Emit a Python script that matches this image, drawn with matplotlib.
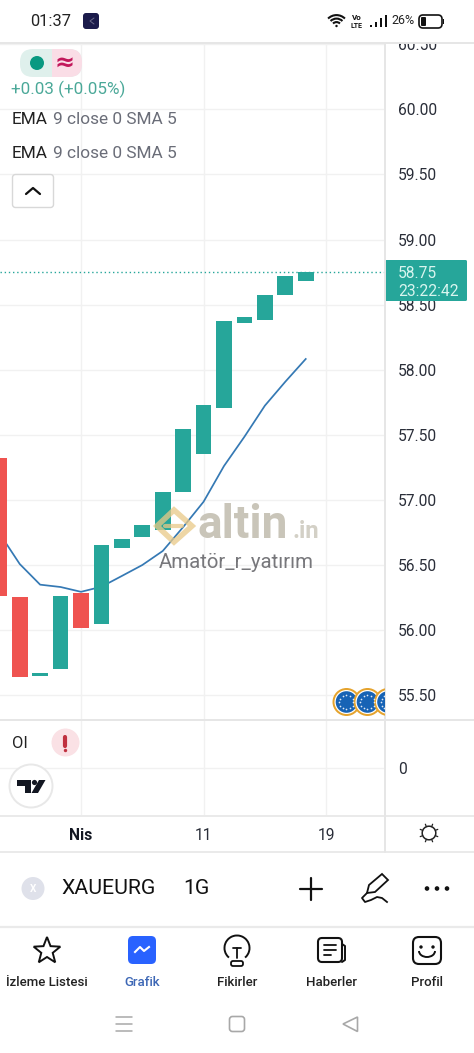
import numpy as np
import matplotlib
matplotlib.use("Agg")
import matplotlib.pyplot as plt
from matplotlib.patches import Circle, FancyBboxPatch, Polygon, Rectangle, Wedge, Arc

plt.rcParams["font.family"] = ["Roboto", "DejaVu Sans"]

W, H = 474, 1053
TEAL = "#26a69a"
RED = "#ef5350"
GRID = "#f1f1f1"
EDGE = "#e6e6e6"
INK = "#131722"

# candle bodies
opens = [57.32, 56.25, 55.645, 55.694, 56.283, 56.045, 56.625, 56.709,
         56.768, 57.058, 57.348, 57.706, 58.358, 58.378, 58.575, 58.678]
closes = [56.258, 55.635, 55.668, 56.26, 56.014, 56.65, 56.698, 56.806,
          57.06, 57.54, 57.729, 58.373, 58.402, 58.571, 58.722, 58.752]
ema = [56.742, 56.504, 56.345, 56.327, 56.29, 56.329, 56.412, 56.496,
       56.604, 56.788, 56.983, 57.258, 57.483, 57.722, 57.906, 58.081]
last_price = 58.75
price_ticks = [55.5, 56.0, 56.5, 57.0, 57.5, 58.0, 58.5, 59.0, 59.5, 60.0, 60.5]
time_ticks = [4, 10, 16]
time_labels = ["Nis", "11", "19"]
nav_labels = ["İzleme Listesi", "Grafik", "Fikirler", "Haberler", "Profil"]
nav_x = [47, 142, 237, 332, 427]


def fs(px):
    return px * 0.72


def pane(left, top, right, bottom):
    return fig.add_axes([left / W, 1 - bottom / H, (right - left) / W, (bottom - top) / H])


fig = plt.figure(figsize=(W / 100, H / 100), dpi=100, facecolor="white")

# price pane
ax = pane(0, 43, 385, 720)
idx = np.arange(len(opens))
colors = [TEAL if c >= o else RED for o, c in zip(opens, closes)]
ax.plot(idx, ema, color="#3579b4", lw=1.25, zorder=3)
ax.bar(idx, np.array(closes) - np.array(opens), bottom=opens, width=0.77, color=colors, zorder=4)
ax.axhline(last_price, color=TEAL, lw=1, ls=(0, (1, 2)), zorder=2)
ax.set_xlim(0.035, 18.88)
ax.set_ylim(55.304, 60.5115)
ax.set_xticks(time_ticks)
ax.set_yticks(price_ticks, [f"{p:.2f}" for p in price_ticks])
ax.yaxis.tick_right()
ax.tick_params(axis="y", length=0, pad=9.2, labelsize=fs(15.6), labelcolor="#2a2e39")
ax.tick_params(axis="x", length=0, labelbottom=False)
ax.grid(color=GRID, lw=1, zorder=0)
ax.set_axisbelow(True)
for s in ax.spines.values():
    s.set_visible(False)

# indicator pane with the date labels underneath
oi = pane(0, 720, 385, 815)
oi.set_xlim(ax.get_xlim())
oi.set_ylim(-1, 1.02)
oi.set_xticks(time_ticks, time_labels)
oi.set_yticks([0], ["0"])
oi.yaxis.tick_right()
oi.tick_params(axis="y", length=0, pad=9.2, labelsize=fs(15.6), labelcolor="#2a2e39")
oi.tick_params(axis="x", length=0, pad=9.5, labelsize=fs(15.6), labelcolor="#2a2e39")
oi.get_xticklabels()[0].set_fontweight("bold")
oi.get_xticklabels()[0].set_color(INK)
oi.grid(color=GRID, lw=1)
oi.set_axisbelow(True)
for s in oi.spines.values():
    s.set_visible(False)

# everything else sits on a pixel overlay
ui = fig.add_axes([0, 0, 1, 1], facecolor="none")
ui.set_xlim(0, W)
ui.set_ylim(H, 0)
ui.axis("off")


def line(xs, ys, color=INK, lw=1.4, **kw):
    ui.plot(xs, ys, color=color, lw=lw, solid_capstyle="round", **kw)


def text(x, y, s, size, color=INK, ha="left", **kw):
    # roboto sits a bit high with va=center
    ui.text(x, y + 1, s, fontsize=fs(size), color=color, ha=ha, va="center", **kw)


def box(x, y, w, h, r, fc="none", ec="none", lw=1.0, **kw):
    p = FancyBboxPatch((x + r, y + r), w - 2 * r, h - 2 * r, boxstyle=f"round,pad={r}",
                       fc=fc, ec=ec, lw=lw, **kw)
    ui.add_patch(p)
    return p


# status bar
ui.add_patch(Rectangle((0, 0), W, 43, fc="white", ec="none", zorder=5))
kw = {"zorder": 6}
ui.text(30, 21.5, "01:37", fontsize=fs(16.5), color="#222", va="center", **kw)
box(83, 13, 16, 16, 3, fc="#1b1b4b", **kw)
line([94, 90, 94], [18, 21, 24], color="#6a6a8a", lw=0.7, zorder=6)
for r in (17, 12, 7):
    ui.add_patch(Arc((336.5, 27), r * 1.4, r * 1.4, theta1=225, theta2=315, ec="#111", lw=1.5, zorder=6))
ui.add_patch(Circle((336.5, 26), 1.2, fc="#111", zorder=6))
ui.text(357, 18, "Vo", fontsize=fs(8), weight="bold", ha="center", va="center", color="#111", **kw)
ui.text(357, 26, "LTE", fontsize=fs(7), weight="bold", ha="center", va="center", color="#111", **kw)
for x0, top in zip((371, 376, 381, 386), (25, 22, 18, 15)):
    ui.add_patch(Rectangle((x0 - 1, top), 2.4, 27 - top, fc="#111", zorder=6))
ui.text(391, 21, "26%", fontsize=fs(12.5), color="#222", va="center", **kw)
box(419, 15, 23, 13, 4, ec="#111", lw=1.2, **kw)
box(421, 17, 5, 9, 1, fc="#111", **kw)
ui.add_patch(Rectangle((443, 19), 1.5, 5, fc="#111", zorder=6))

# frame lines
line([0, W], [43, 43], color=EDGE, lw=1.4, zorder=7)
line([385, 385], [43, 852], color=EDGE, lw=1.4)
line([0, W], [720, 720], color=EDGE, lw=1.4)
line([0, W], [815.5, 815.5], color=EDGE, lw=1.2)
line([0, W], [852, 852], color=EDGE, lw=1.2)

# legend block
box(20, 49, 62, 28, 13, fc="#dff0ec")
pink = box(20, 49, 62, 28, 13, fc="#fadde6")
pink.set_clip_path(Rectangle((52, 40), 40, 50, transform=ui.transData))
ui.add_patch(Circle((37, 63), 7, fc="#089981", ec="none"))
text(65, 62, "≈", 24, color="#c2185b", ha="center", weight="bold", family="DejaVu Sans")
text(11, 88, "+0.03 (+0.05%)", 17, color="#4aa898")
for y in (119, 153):
    text(12, y, "EMA", 17.2, color="#222")
    text(53, y, "9 close 0 SMA 5", 17.2, color="#6a6d78")
box(12.5, 174.5, 41, 33, 3, fc="white", ec="#d8d8d8", lw=1)
line([26, 33, 40], [194, 188, 194], color="#111", lw=1.6)

# last price badge
box(385, 260, 82, 41, 1.5, fc=TEAL)
text(398, 272, "58.75", 15.6, color="#d9f5ef")
text(398, 291, "23:22:42", 15.6, color="#d9f5ef")

# watermark
ui.add_patch(Polygon([[174, 510], [192, 526], [174, 542], [157, 526]], closed=True, fc="none",
                     ec="#e9c987", lw=4, alpha=0.75, joinstyle="miter"))
line([165, 182], [526, 526], color="#e9c987", lw=3, alpha=0.75)
text(198, 524, "altin", 46, color="#c9c5b9", weight="bold")
text(293, 531, ".in", 24, color="#d3d0c6", weight="bold")
text(159, 561, "Amatör_r_yatırım", 20.4, color="#77777b")

# euro event markers, the last one runs under the axis
clip = Rectangle((0, 43), 385, 677, transform=ui.transData)
for cx in (346.5, 367.5, 388):
    for r, c in ((14, "#e5a32d"), (12, "white"), (10.8, "#1763b5")):
        p = Circle((cx, 702), r, fc=c, ec="none", zorder=3)
        ui.add_patch(p)
        p.set_clip_path(clip)
    a = np.deg2rad(np.arange(0, 360, 30))
    s = ui.scatter(cx + 7 * np.cos(a), 702 + 7 * np.sin(a), s=1.5, color="#dfe9f5", zorder=4, linewidths=0)
    s.set_clip_path(clip)

# indicator legend and logo
text(12, 742, "OI", 16.5, color="#222")
ui.add_patch(Circle((65.5, 742.5), 14, fc="#fae1e5", ec="none"))
line([65.5, 65.5], [737, 746], color="#c0303f", lw=3)
ui.add_patch(Circle((65.5, 750.5), 1.7, fc="#c0303f"))
ui.add_patch(Circle((31, 786), 21.5, fc="white", ec="#e8e8e8", lw=1.4))
ui.add_patch(Polygon([[17, 780], [31, 780], [31, 793], [25, 793], [25, 786], [17, 786]], closed=True, fc=INK))
ui.add_patch(Circle((34.5, 782.5), 2.6, fc=INK))
ui.add_patch(Polygon([[39, 780], [45.5, 780], [38, 793], [31.5, 793]], closed=True, fc=INK))

# sun button
ui.add_patch(Circle((429, 833), 6.8, fc="none", ec="#222", lw=1.1))
for a in np.deg2rad(np.arange(22.5, 360, 45)):
    line([429 + 7 * np.cos(a), 429 + 9.5 * np.cos(a)], [833 + 7 * np.sin(a), 833 + 9.5 * np.sin(a)], color="#222", lw=0.9)

# symbol bar
ui.add_patch(Circle((33, 888.5), 11.5, fc="#dfe1ea"))
text(33, 887.5, "X", 10, color="white", ha="center", weight="bold")
text(61, 887.5, "XAUEURG", 21.3, color="#111")
text(183, 887.5, "1G", 21.3, color="#111")
line([300, 322], [888.5, 888.5], color="#111", lw=1.6)
line([311, 311], [877.5, 899.5], color="#111", lw=1.6)
ui.add_patch(Polygon([[367, 893], [369, 885], [382, 874], [388, 880], [375, 892]], closed=True, fc="none", ec="#111", lw=1.3))
ui.plot([367, 362, 365, 371, 377, 382, 387], [893, 898, 902, 900, 897, 898, 902], color="#111", lw=1.3)
for x0 in (427, 437, 447):
    ui.add_patch(Circle((x0, 888.5), 2.3, fc="#111"))
line([0, W], [926.5, 926.5], color="#eaeaea", lw=1.6)

# bottom nav
for x0, label in zip(nav_x, nav_labels):
    active = label == "Grafik"
    text(x0, 981, label, 13.2, color="#3d67b5" if active else "#222", ha="center", weight="medium")
a = np.deg2rad(np.arange(-90, 270, 36))
rad = np.where(np.arange(10) % 2 == 0, 14, 6)
ui.add_patch(Polygon(np.c_[47 + rad * np.cos(a), 951 + rad * np.sin(a)], closed=True, fc="none", ec="#111", lw=1.4))
box(128, 936, 28, 28, 5, fc="#2962ff")
ui.plot([135, 140, 144, 149], [952, 947, 951, 947], color="white", lw=1.5)
ui.add_patch(Arc((237, 948), 25, 25, theta1=130, theta2=50, ec="#111", lw=1.4))
box(231, 961, 12, 5, 2, ec="#111", lw=1.3)
line([233, 241], [948, 948], color="#111", lw=1.3)
line([237, 237], [948, 958], color="#111", lw=1.3)
box(318, 938, 24, 24, 4, ec="#111", lw=1.5)
line([342, 345, 345, 342], [944, 946, 960, 962], color="#111", lw=1.4)
for y0, x1 in ((945, 336), (950, 336), (955, 331)):
    line([324, x1], [y0, y0], color="#111", lw=1.3)
box(413, 937, 28, 27, 6, ec="#111", lw=1.5)
ui.add_patch(Circle((421, 947), 1.7, fc="#111"))
ui.add_patch(Circle((433, 947), 1.7, fc="#111"))
ui.add_patch(Arc((427, 951), 16, 12, theta1=0, theta2=180, ec="#111", lw=1.4))

# system bar
for y0 in (1016.5, 1024, 1031):
    line([116, 132], [y0, y0], color="#a8a8a8", lw=1.1)
box(229.5, 1016.5, 15, 15, 3, ec="#a8a8a8", lw=1.2)
ui.add_patch(Polygon([[343, 1024], [357.5, 1017], [357.5, 1031.5]], closed=True, fc="none", ec="#a8a8a8", lw=1.2))

fig.savefig("out.png", dpi=100)
plt.close(fig)
